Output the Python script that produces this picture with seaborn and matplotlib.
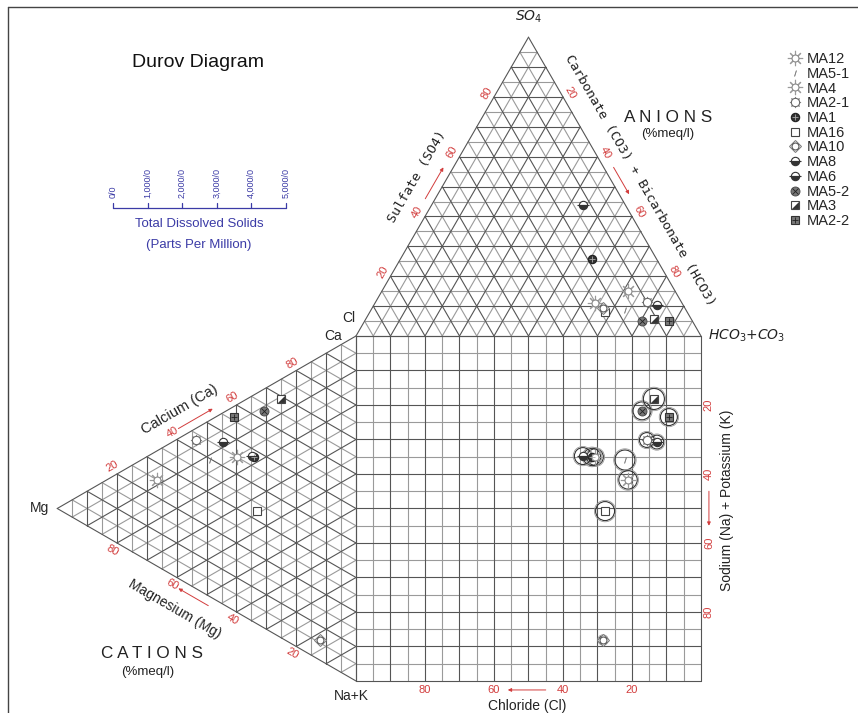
import numpy as np
import pandas as pd
import matplotlib
matplotlib.use("Agg")
import matplotlib.pyplot as plt
from matplotlib.lines import Line2D
from matplotlib.patches import Circle
from matplotlib.legend_handler import HandlerTuple
import seaborn as sns

# ---------------- sample chemistry (% meq/l) ----------------
samples = ["MA12", "MA5-1", "MA4", "MA2-1", "MA1", "MA16",
           "MA10", "MA8", "MA6", "MA5-2", "MA3", "MA2-2"]
ca = [45.0, 39.6, 25.0, 43.1, 47.9, 32.7, 5.9, 47.0, 47.8, 62.9, 69.2, 56.1]
mg = [39.8, 48.9, 66.6, 53.5, 34.1, 33.1, 12.0, 44.5, 34.8, 30.8, 25.1, 40.8]
nak = [15.2, 11.5, 8.4, 3.4, 18.0, 34.2, 82.1, 8.5, 17.4, 6.3, 5.7, 3.1]
cl = [25.2, 17.7, 13.6, 10.0, 18.7, 23.8, 23.7, 7.6, 12.3, 14.6, 10.8, 6.8]
so4 = [11.0, 8.7, 15.1, 11.4, 25.8, 8.0, 9.4, 10.4, 43.9, 5.0, 5.7, 5.0]
hco3 = [63.8, 73.6, 71.3, 78.6, 55.5, 68.2, 66.9, 82.0, 43.8, 80.4, 83.5, 88.2]
tds = [480, 580, 535, 430, 500, 550, 230, 400, 490, 520, 610, 490]  # mg/l

pct_ticks = [20, 40, 60, 80]
tds_ticks = [0, 1000, 2000, 3000, 4000, 5000]
tds_tick_labels = ["0/0", "1,000/0", "2,000/0", "3,000/0", "4,000/0", "5,000/0"]

RED = "#d23c3c"
BLUE = "#3b3ba6"
GRID_MAJOR = "#555555"
GRID_MINOR = "#9a9a9a"

# ---------------- geometry ----------------
H = np.sqrt(3) / 2
V_CL = np.array([0.0, 100.0])
V_HCO3 = np.array([100.0, 100.0])
V_SO4 = np.array([50.0, 100.0 + 100 * H])
V_CA = np.array([0.0, 100.0])
V_NAK = np.array([0.0, 0.0])
V_MG = np.array([-100 * H, 50.0])


def bary(verts, weights):
    w = np.asarray(weights, dtype=float) / 100.0
    return sum(wi * v for wi, v in zip(w, verts))


an_xy = np.array([bary((V_CL, V_SO4, V_HCO3), (a, b, c))
                  for a, b, c in zip(cl, so4, hco3)])
cat_xy = np.array([bary((V_CA, V_MG, V_NAK), (a, b, c))
                   for a, b, c in zip(ca, mg, nak)])
sq_xy = np.column_stack([an_xy[:, 0], cat_xy[:, 1]])


def triangle_segments(verts):
    major, minor = [], []
    for i in range(3):
        vi = verts[i]
        vj, vk = verts[(i + 1) % 3], verts[(i + 2) % 3]
        for lev in range(0, 100, 5):
            f = lev / 100
            p = f * vi + (1 - f) * vj
            q = f * vi + (1 - f) * vk
            (major if lev % 10 == 0 else minor).append((p, q))
    return major, minor


def square_segments():
    major, minor = [], []
    for lev in range(0, 101, 5):
        segs = [((lev, 0), (lev, 100)), ((0, lev), (100, lev))]
        (major if lev % 10 == 0 else minor).extend(segs)
    return major, minor


def seg_frame(segs):
    rows = []
    for i, (p, q) in enumerate(segs):
        rows.append((i, p[0], p[1]))
        rows.append((i, q[0], q[1]))
    return pd.DataFrame(rows, columns=["seg", "x", "y"])


# ---------------- figure ----------------
sns.set_theme(style="white")
plt.rcParams["font.family"] = ["Liberation Sans", "DejaVu Sans"]
plt.rcParams["mathtext.fontset"] = "dejavusans"

fig = plt.figure(figsize=(8.58, 7.13), dpi=100)
ax = fig.add_axes([0, 0, 1, 1])

major, minor = [], []
for mj, mn in (triangle_segments((V_CL, V_SO4, V_HCO3)),
               triangle_segments((V_CA, V_MG, V_NAK)),
               square_segments()):
    major += mj
    minor += mn

sns.lineplot(data=seg_frame(minor), x="x", y="y", units="seg", estimator=None,
             sort=False, color=GRID_MINOR, linewidth=0.8, ax=ax, legend=False, zorder=1)
sns.lineplot(data=seg_frame(major), x="x", y="y", units="seg", estimator=None,
             sort=False, color=GRID_MAJOR, linewidth=0.8, ax=ax, legend=False, zorder=1.1)

# ---------------- marker styles ----------------
sun = [dict(marker=(8, 2, 0), ms=11, mec="#9a9a9a", mew=0.8),
       dict(marker="o", ms=5, mfc="white", mec="#888888", mew=0.8)]
half = [dict(marker="o", ms=6, fillstyle="bottom", mfc="#333333", mfcalt="white",
             mec="#333333", mew=0.8),
        dict(marker="_", ms=9, mec="#333333", mew=0.8)]
styles = {
    "MA12": sun,
    "MA5-1": [dict(marker="$/$", ms=4, mec="#777777", mfc="#777777", mew=0.3)],
    "MA4": sun,
    "MA2-1": [dict(marker=(8, 2, 0), ms=8, mec="#888888", mew=0.7),
              dict(marker="o", ms=6, mfc="white", mec="#666666", mew=0.8)],
    "MA1": [dict(marker="o", ms=6, mfc="#333333", mec="#222222", mew=0.8),
            dict(marker="+", ms=5, mec="#aaaaaa", mew=0.6)],
    "MA16": [dict(marker="s", ms=6, mfc="white", mec="#444444", mew=0.8)],
    "MA10": [dict(marker="D", ms=6.5, mfc="white", mec="#777777", mew=0.7),
             dict(marker="o", ms=5, mfc="white", mec="#555555", mew=0.8)],
    "MA8": half,
    "MA6": half,
    "MA5-2": [dict(marker="o", ms=6.5, mfc="#777777", mec="#444444", mew=0.6),
              dict(marker="x", ms=4, mec="#222222", mew=0.6)],
    "MA3": [dict(marker="s", ms=6, mfc="white", mec="#444444", mew=0.8),
            dict(marker=[(-1, -1), (1, -1), (1, 1), (-1, -1)], ms=5,
                 mfc="#333333", mec="#333333", mew=0)],
    "MA2-2": [dict(marker="s", ms=6, mfc="#777777", mec="#333333", mew=0.8),
              dict(marker="+", ms=5, mec="#222222", mew=0.6)],
}


def draw_marker(x, y, layers, z=4):
    for k, layer in enumerate(layers):
        ax.plot([x], [y], linestyle="none", zorder=z + 0.1 * k, **layer)


for i, s in enumerate(samples):
    for xy in (an_xy[i], cat_xy[i], sq_xy[i]):
        draw_marker(xy[0], xy[1], styles[s])
    r = tds[i] / 200.0   # circle diameter on the TDS scale (50 units per 5000)
    ax.add_patch(Circle(sq_xy[i], r, fill=False, ec="#333333", lw=0.8, zorder=3))
    ax.add_patch(Circle(sq_xy[i], r + 0.35, fill=False, ec="#999999", lw=0.6, zorder=3))


# ---------------- edge scales ----------------
def edge_scale(P, Q, ref, title, title_f, arrow_f, tick_off=2.5, title_off=7.5,
               rot=None, title_font=None, title_size=10):
    P, Q, ref = map(np.asarray, (P, Q, ref))
    d = (Q - P) / 100.0
    n = np.array([-d[1], d[0]])
    n /= np.linalg.norm(n)
    if np.dot(n, (P + Q) / 2 - ref) < 0:
        n = -n
    ang = np.degrees(np.arctan2(d[1], d[0]))
    if ang > 90:
        ang -= 180
    if ang < -90:
        ang += 180
    if rot is not None:
        ang = rot
    for t in pct_ticks:
        p = P + d * t + n * tick_off
        ax.text(p[0], p[1], str(t), color=RED, fontsize=8, rotation=ang,
                rotation_mode="anchor", ha="center", va="center")
    a0 = P + d * arrow_f[0] + n * tick_off
    a1 = P + d * arrow_f[1] + n * tick_off
    ax.annotate("", xy=a1, xytext=a0,
                arrowprops=dict(arrowstyle="-|>", color=RED, lw=0.7,
                                mutation_scale=5, shrinkA=0, shrinkB=0))
    tp = P + d * title_f + n * title_off
    kw = dict(fontsize=title_size, rotation=ang, rotation_mode="anchor",
              ha="center", va="center", color="#222222")
    if title_font:
        kw["family"] = title_font
    ax.text(tp[0], tp[1], title, **kw)


edge_scale(V_CL, V_SO4, V_HCO3, "Sulfate (SO4)", 49, (44.5, 55),
           title_off=7.7, title_font="DejaVu Sans Mono", title_size=9.5)
edge_scale(V_SO4, V_HCO3, V_CL, "Carbonate (CO3) + Bicarbonate (HCO3)", 52, (45, 54),
           title_off=7.2, title_font="DejaVu Sans Mono", title_size=9.5)
edge_scale(V_MG, V_CA, V_NAK, "Calcium (Ca)", 45, (42, 53.5), title_off=7.1,
           title_size=10.5)
edge_scale(V_NAK, V_MG, V_CA, "Magnesium (Mg)", 56, (48, 58), title_off=8.2)
edge_scale((100, 0), (0, 0), (50, 50), "Chloride (Cl)", 50.4, (45, 56),
           tick_off=2.6, title_off=7.2)
edge_scale((100, 100), (100, 0), (50, 50), "Sodium (Na) + Potassium (K)", 47.5, (45, 55),
           tick_off=2.3, title_off=7.5, rot=90)

# ---------------- vertex labels ----------------
ax.text(V_SO4[0], V_SO4[1] + 5.9, r"$\mathit{SO_4}$", fontsize=10, ha="center", va="center",
        color="#222222")
ax.text(V_HCO3[0] + 2, V_HCO3[1], r"$\mathit{HCO_3{+}CO_3}$", fontsize=10, ha="left",
        va="center", color="#222222")
ax.text(V_CL[0] - 2.0, V_CL[1] + 5.2, "Cl", fontsize=10, ha="center", va="center")
ax.text(V_CA[0] - 6.7, V_CA[1], "Ca", fontsize=10, ha="center", va="center")
ax.text(V_MG[0] - 5.0, V_MG[1], "Mg", fontsize=10, ha="center", va="center")
ax.text(V_NAK[0] - 1.2, V_NAK[1] - 4.3, "Na+K", fontsize=10, ha="center", va="center")

ax.text(90.4, 163.2, "A N I O N S", fontsize=12.3, ha="center", va="center", color="#222222")
ax.text(90.4, 158.6, "(%meq/l)", fontsize=9.5, ha="center", va="center", color="#222222")
ax.text(-59.1, 8.1, "C A T I O N S", fontsize=12.3, ha="center", va="center", color="#222222")
ax.text(-60.3, 2.6, "(%meq/l)", fontsize=9.5, ha="center", va="center", color="#222222")

ax.text(-45.8, 179.4, "Durov Diagram", fontsize=14, ha="center", va="center", color="#111111")

# ---------------- TDS scale ----------------
tds_x0, tds_y = -70.43, 137.1
unit = 50.0 / 5000.0
ax.plot([tds_x0 + tds_ticks[0] * unit, tds_x0 + tds_ticks[-1] * unit], [tds_y, tds_y],
        color=BLUE, lw=0.9)
for v, lab in zip(tds_ticks, tds_tick_labels):
    x = tds_x0 + v * unit
    ax.plot([x, x], [tds_y, tds_y + 1.5], color=BLUE, lw=0.9)
    ax.text(x, tds_y + 2.9, lab, color=BLUE, fontsize=6.5, rotation=90,
            ha="center", va="bottom")
ax.text(-45.5, 132.5, "Total Dissolved Solids", color=BLUE, fontsize=9.5,
        ha="center", va="center")
ax.text(-45.5, 126.4, "(Parts Per Million)", color=BLUE, fontsize=9.5,
        ha="center", va="center")

# ---------------- legend ----------------
handles = [tuple(Line2D([], [], linestyle="none", **layer) for layer in styles[s])
           for s in samples]
ax.legend(handles, samples, handler_map={tuple: HandlerTuple(ndivide=1, pad=0)},
          loc="upper left", bbox_to_anchor=(0.916, 0.927), bbox_transform=fig.transFigure,
          frameon=False, fontsize=10.5, handlelength=1.2, handletextpad=0.2,
          labelspacing=0.05, borderpad=0, borderaxespad=0)

# ---------------- frame ----------------
fig.add_artist(Line2D([8 / 858, 1], [1 - 7 / 713, 1 - 7 / 713],
                      transform=fig.transFigure, color="#444444", lw=1))
fig.add_artist(Line2D([8 / 858, 8 / 858], [0, 1 - 7 / 713],
                      transform=fig.transFigure, color="#444444", lw=1))

ax.set_xlim(-103.19, 145.51)
ax.set_ylim(-9.28, 197.39)
ax.set_axis_off()

fig.savefig("out.png", dpi=100, facecolor="white")
